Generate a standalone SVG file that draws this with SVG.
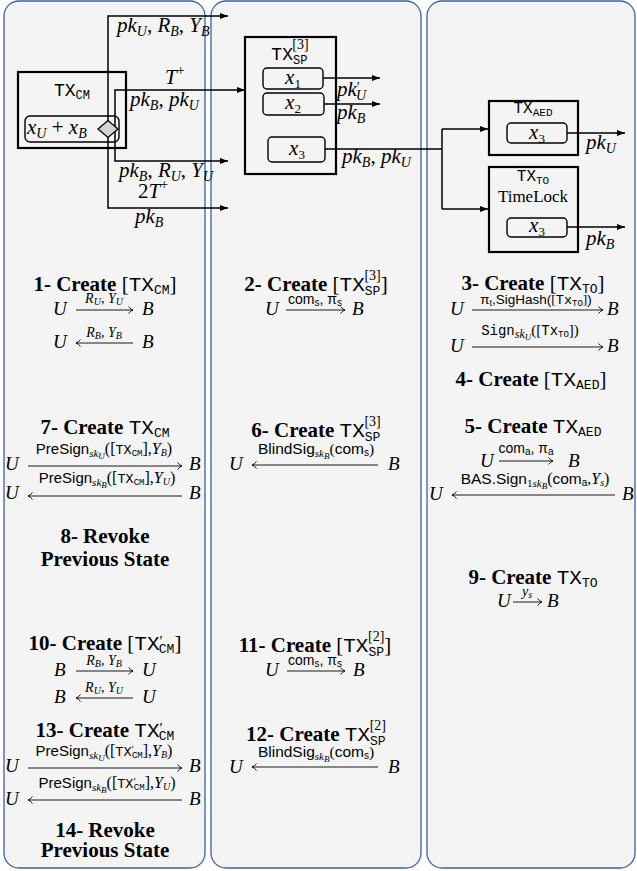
<svg xmlns="http://www.w3.org/2000/svg" width="637" height="871" viewBox="0 0 637 871">
<defs>
<style>
.panel{fill:#f4f4f4;stroke:#3d5fa6;stroke-width:1.3}
.box{fill:none;stroke:#000;stroke-width:2.2}
.inner{fill:none;stroke:#000;stroke-width:1.4}
.con{fill:none;stroke:#000;stroke-width:1.5}
.ma{fill:none;stroke:#000;stroke-width:0.9}
.mi{font-family:"Liberation Serif",serif;font-style:italic}
.rm{font-family:"Liberation Serif",serif;font-style:normal;font-weight:normal}
.bf{font-family:"Liberation Serif",serif;font-weight:bold}
.tt{font-family:"Liberation Mono","DejaVu Sans Mono",monospace;font-style:normal;font-weight:normal}
.sf{font-family:"Liberation Sans",sans-serif;font-style:normal;font-weight:normal}
text{fill:#000}
</style>
<marker id="ah" markerWidth="8" markerHeight="6" refX="8" refY="3" orient="auto" markerUnits="userSpaceOnUse"><path d="M0,0 L8,3 L0,6 z" fill="#000"/></marker>
<marker id="mh" markerWidth="7" markerHeight="9" refX="6" refY="4.5" orient="auto" markerUnits="userSpaceOnUse"><path d="M1.5,1 Q3.5,3.7 6,4.5 Q3.5,5.3 1.5,8" fill="none" stroke="#000" stroke-width="0.9"/></marker>
</defs>

<g id="panels">
<rect class="panel" x="4" y="1" width="201" height="867" rx="15"/>
<rect class="panel" x="211" y="1" width="210" height="867" rx="15"/>
<rect class="panel" x="427" y="1" width="208" height="867" rx="15"/>
</g>

<g id="tx-cm">
<rect class="box" x="18" y="72" width="108" height="76"/>
<text class="tt" x="72" y="96" text-anchor="middle" font-size="18">TX<tspan font-size="12" dy="3">CM</tspan></text>
<rect class="inner" x="25" y="116" width="94" height="26" rx="5"/>
<text class="mi" x="27" y="134" font-size="21">x<tspan font-size="14" dy="4">U</tspan><tspan class="rm" dy="-4"> + </tspan>x<tspan font-size="14" dy="4">B</tspan></text>
</g>

<g id="tx-sp">
<rect class="box" x="245" y="37" width="91" height="137"/>
<text class="tt" x="290" y="60" text-anchor="middle" font-size="18">TX<tspan font-size="12" dy="4">SP</tspan><tspan class="rm" font-size="14" dx="-15" dy="-15">[3]</tspan></text>
<rect class="inner" x="263" y="68" width="60" height="21" rx="4"/>
<text class="mi" x="293" y="84" text-anchor="middle" font-size="21">x<tspan class="rm" font-size="13" dy="4">1</tspan></text>
<rect class="inner" x="263" y="93" width="61" height="22" rx="4"/>
<text class="mi" x="293" y="109" text-anchor="middle" font-size="21">x<tspan class="rm" font-size="13" dy="4">2</tspan></text>
<rect class="inner" x="268" y="137" width="57" height="25" rx="4"/>
<text class="mi" x="297" y="155" text-anchor="middle" font-size="21">x<tspan class="rm" font-size="13" dy="4">3</tspan></text>
</g>

<g id="tx-aed">
<rect class="box" x="489" y="101" width="89" height="54"/>
<text class="tt" x="533" y="113" text-anchor="middle" font-size="16">TX<tspan font-size="11" dy="3">AED</tspan></text>
<rect class="inner" x="507" y="123" width="60" height="20" rx="4"/>
<text class="mi" x="537" y="139" text-anchor="middle" font-size="21">x<tspan class="rm" font-size="13" dy="4">3</tspan></text>
</g>

<g id="tx-to">
<rect class="box" x="489" y="167" width="89" height="85"/>
<text class="tt" x="533" y="181" text-anchor="middle" font-size="16">TX<tspan font-size="11" dy="3">TO</tspan></text>
<text class="rm" x="533" y="202" text-anchor="middle" font-size="17">TimeLock</text>
<rect class="inner" x="507" y="218" width="60" height="19" rx="4"/>
<text class="mi" x="537" y="232" text-anchor="middle" font-size="21">x<tspan class="rm" font-size="13" dy="4">3</tspan></text>
</g>

<g id="connectors">
<path class="con" d="M108,129 V16 H228" marker-end="url(#ah)"/>
<path class="con" d="M108,129 V208 H228" marker-end="url(#ah)"/>
<path class="con" d="M115,129 V90 H245" marker-end="url(#ah)"/>
<path class="con" d="M115,129 V161 H228" marker-end="url(#ah)"/>
<path class="con" d="M323,78 H380" marker-end="url(#ah)"/>
<path class="con" d="M324,104 H380" marker-end="url(#ah)"/>
<path class="con" d="M325,149 H442 M442,129 V209"/>
<path class="con" d="M442,129 H488" marker-end="url(#ah)"/>
<path class="con" d="M442,209 H488" marker-end="url(#ah)"/>
<path class="con" d="M567,133 H625" marker-end="url(#ah)"/>
<path class="con" d="M567,227 H625" marker-end="url(#ah)"/>
</g>

<g id="tx-cm-split">
<path d="M98,129 L108,120.5 L118,129 L108,137.5 Z" fill="#d3d3d3" stroke="#000" stroke-width="1.3"/>
</g>

<g id="edge-labels">
<text class="mi" x="117" y="32" font-size="21">pk<tspan font-size="14" dy="4">U</tspan><tspan class="rm" dy="-4">, </tspan>R<tspan font-size="14" dy="4">B</tspan><tspan class="rm" dy="-4">, </tspan>Y<tspan font-size="14" dy="4">B</tspan></text>
<text class="mi" x="165" y="84" font-size="21">T<tspan class="rm" font-size="14" dy="-9">+</tspan></text>
<text class="mi" x="130" y="106" font-size="21">pk<tspan font-size="14" dy="4">B</tspan><tspan class="rm" dy="-4">, </tspan>pk<tspan font-size="14" dy="4">U</tspan></text>
<text class="mi" x="119" y="177" font-size="21">pk<tspan font-size="14" dy="4">B</tspan><tspan class="rm" dy="-4">, </tspan>R<tspan font-size="14" dy="4">U</tspan><tspan class="rm" dy="-4">, </tspan>Y<tspan font-size="14" dy="4">U</tspan></text>
<text class="mi" x="138" y="198" font-size="21"><tspan class="rm">2</tspan>T<tspan class="rm" font-size="14" dy="-9">+</tspan></text>
<text class="mi" x="135" y="223" font-size="21">pk<tspan font-size="14" dy="4">B</tspan></text>
<text class="mi" x="337" y="96" font-size="21">pk<tspan class="rm" font-size="14" dy="-4">′</tspan><tspan font-size="14" dx="-4" dy="8">U</tspan></text>
<text class="mi" x="337" y="119" font-size="21">pk<tspan font-size="14" dy="4">B</tspan></text>
<text class="mi" x="342" y="163" font-size="21">pk<tspan font-size="14" dy="4">B</tspan><tspan class="rm" dy="-4">, </tspan>pk<tspan font-size="14" dy="4">U</tspan></text>
<text class="mi" x="586" y="149" font-size="21">pk<tspan font-size="14" dy="4">U</tspan></text>
<text class="mi" x="586" y="245" font-size="21">pk<tspan font-size="14" dy="4">B</tspan></text>
</g>

<g id="step-1">
<text class="bf" x="105" y="291" text-anchor="middle" font-size="21">1- Create <tspan class="rm">[</tspan><tspan class="tt">TX</tspan><tspan class="tt" font-size="13" dy="3">CM</tspan><tspan class="rm" dy="-3">]</tspan></text>
<text class="mi" x="53" y="315" font-size="19">U</text>
<path class="ma" d="M76,310 H133" marker-end="url(#mh)"/>
<text class="mi" x="104" y="303" text-anchor="middle" font-size="14">R<tspan font-size="10" dy="2">U</tspan><tspan class="rm" dy="-2">, </tspan>Y<tspan font-size="10" dy="2">U</tspan></text>
<text class="mi" x="142" y="315" font-size="19">B</text>
<text class="mi" x="53" y="348" font-size="19">U</text>
<path class="ma" d="M133,343 H76" marker-end="url(#mh)"/>
<text class="mi" x="104" y="337" text-anchor="middle" font-size="14">R<tspan font-size="10" dy="2">B</tspan><tspan class="rm" dy="-2">, </tspan>Y<tspan font-size="10" dy="2">B</tspan></text>
<text class="mi" x="142" y="348" font-size="19">B</text>
</g>

<g id="step-2">
<text class="bf" x="316" y="291" text-anchor="middle" font-size="21">2- Create <tspan class="rm">[</tspan><tspan class="tt">TX</tspan><tspan class="tt" font-size="13" dy="4">SP</tspan><tspan class="rm" font-size="14" dx="-16" dy="-15">[3]</tspan><tspan class="rm" dy="11">]</tspan></text>
<text class="mi" x="265" y="315" font-size="19">U</text>
<path class="ma" d="M286,310 H345" marker-end="url(#mh)"/>
<text class="sf" x="315" y="304" text-anchor="middle" font-size="14">com<tspan font-size="10" dy="2">s</tspan><tspan dy="-2">, π</tspan><tspan font-size="10" dy="2">s</tspan></text>
<text class="mi" x="352" y="315" font-size="19">B</text>
</g>

<g id="step-3">
<text class="bf" x="533" y="290" text-anchor="middle" font-size="21">3- Create <tspan class="rm">[</tspan><tspan class="tt">TX</tspan><tspan class="tt" font-size="13" dy="3">TO</tspan><tspan class="rm" dy="-3">]</tspan></text>
<text class="mi" x="450" y="315" font-size="19">U</text>
<path class="ma" d="M472,310 H603" marker-end="url(#mh)"/>
<text class="sf" x="536" y="304" text-anchor="middle" font-size="13.5">π<tspan font-size="9" dy="2">t</tspan><tspan dy="-2">,SigHash(</tspan><tspan class="rm">[</tspan><tspan class="tt">Tx</tspan><tspan class="tt" font-size="9" dy="2">TO</tspan><tspan class="rm" dy="-2">]</tspan>)</text>
<text class="mi" x="607" y="315" font-size="19">B</text>
<text class="mi" x="450" y="352" font-size="19">U</text>
<path class="ma" d="M472,347 H603" marker-end="url(#mh)"/>
<text class="tt" x="530" y="335" text-anchor="middle" font-size="14">Sign<tspan class="mi" font-size="12" dy="3">sk</tspan><tspan class="mi" font-size="9" dy="2">U</tspan><tspan class="rm" font-size="15" dy="-5">([</tspan>Tx<tspan font-size="9" dy="2">TO</tspan><tspan class="rm" font-size="15" dy="-2">])</tspan></text>
<text class="mi" x="607" y="352" font-size="19">B</text>
</g>

<g id="step-4">
<text class="bf" x="531" y="386" text-anchor="middle" font-size="21">4- Create <tspan class="rm">[</tspan><tspan class="tt">TX</tspan><tspan class="tt" font-size="13" dy="3">AED</tspan><tspan class="rm" dy="-3">]</tspan></text>
</g>

<g id="step-5">
<text class="bf" x="533" y="433" text-anchor="middle" font-size="21">5- Create <tspan class="tt">TX</tspan><tspan class="tt" font-size="13" dy="3">AED</tspan></text>
<text class="mi" x="480" y="467" font-size="19">U</text>
<path class="ma" d="M499,461 H553" marker-end="url(#mh)"/>
<text class="sf" x="526" y="453" text-anchor="middle" font-size="14">com<tspan font-size="10" dy="2">a</tspan><tspan dy="-2">, π</tspan><tspan font-size="10" dy="2">a</tspan></text>
<text class="mi" x="568" y="467" font-size="19">B</text>
<text class="mi" x="429" y="500" font-size="19">U</text>
<path class="ma" d="M615,495 H452" marker-end="url(#mh)"/>
<text class="sf" x="535" y="484" text-anchor="middle" font-size="15.5">BAS.Sign<tspan class="rm" font-size="11" dy="3">1</tspan><tspan class="mi" font-size="11">sk</tspan><tspan class="mi" font-size="9" dy="2">B</tspan><tspan class="rm" font-size="16" dy="-5">(</tspan>com<tspan font-size="10" dy="2">a</tspan><tspan class="rm" dy="-2">,</tspan><tspan class="mi" font-size="16">Y</tspan><tspan class="mi" font-size="10" dy="2">s</tspan><tspan class="rm" font-size="16" dy="-2">)</tspan></text>
<text class="mi" x="622" y="500" font-size="19">B</text>
</g>

<g id="step-6">
<text class="bf" x="316" y="437" text-anchor="middle" font-size="21">6- Create <tspan class="tt">TX</tspan><tspan class="tt" font-size="13" dy="4">SP</tspan><tspan class="rm" font-size="14" dx="-16" dy="-15">[3]</tspan></text>
<text class="mi" x="229" y="470" font-size="19">U</text>
<path class="ma" d="M378,465 H252" marker-end="url(#mh)"/>
<text class="sf" x="316" y="454" text-anchor="middle" font-size="15.5">BlindSig<tspan class="mi" font-size="11" dy="3">sk</tspan><tspan class="mi" font-size="9" dy="2">B</tspan><tspan class="rm" dy="-5">(</tspan>com<tspan font-size="10" dy="2">s</tspan><tspan class="rm" dy="-2">)</tspan></text>
<text class="mi" x="388" y="470" font-size="19">B</text>
</g>

<g id="step-7">
<text class="bf" x="105" y="434" text-anchor="middle" font-size="21">7- Create <tspan class="tt">TX</tspan><tspan class="tt" font-size="13" dy="3">CM</tspan></text>
<text class="mi" x="5" y="470" font-size="19">U</text>
<path class="ma" d="M28,466 H182" marker-end="url(#mh)"/>
<text class="sf" x="104" y="454" text-anchor="middle" font-size="15">PreSign<tspan class="mi" font-size="11" dy="3">sk</tspan><tspan class="mi" font-size="9" dy="2">U</tspan><tspan class="rm" font-size="16" dy="-5">([</tspan><tspan class="tt" font-size="13.5">TX</tspan><tspan class="tt" font-size="9" dy="2">CM</tspan><tspan class="rm" font-size="16" dy="-2">],</tspan><tspan class="mi" font-size="16">Y</tspan><tspan class="mi" font-size="10" dy="2">B</tspan><tspan class="rm" font-size="16" dy="-2">)</tspan></text>
<text class="mi" x="189" y="470" font-size="19">B</text>
<text class="mi" x="5" y="499" font-size="19">U</text>
<path class="ma" d="M182,496 H28" marker-end="url(#mh)"/>
<text class="sf" x="107" y="483" text-anchor="middle" font-size="15">PreSign<tspan class="mi" font-size="11" dy="3">sk</tspan><tspan class="mi" font-size="9" dy="2">B</tspan><tspan class="rm" font-size="16" dy="-5">([</tspan><tspan class="tt" font-size="13.5">TX</tspan><tspan class="tt" font-size="9" dy="2">CM</tspan><tspan class="rm" font-size="16" dy="-2">],</tspan><tspan class="mi" font-size="16">Y</tspan><tspan class="mi" font-size="10" dy="2">U</tspan><tspan class="rm" font-size="16" dy="-2">)</tspan></text>
<text class="mi" x="189" y="499" font-size="19">B</text>
</g>

<g id="step-8">
<text class="bf" x="105" y="543" text-anchor="middle" font-size="21">8- Revoke</text>
<text class="bf" x="105" y="566" text-anchor="middle" font-size="21">Previous State</text>
</g>

<g id="step-9">
<text class="bf" x="533" y="584" text-anchor="middle" font-size="21">9- Create <tspan class="tt">TX</tspan><tspan class="tt" font-size="13" dy="3">TO</tspan></text>
<text class="mi" x="497" y="607" font-size="19">U</text>
<path class="ma" d="M513,602 H542" marker-end="url(#mh)"/>
<text class="mi" x="527" y="596" text-anchor="middle" font-size="14">y<tspan font-size="10" dy="2">s</tspan></text>
<text class="mi" x="547" y="607" font-size="19">B</text>
</g>

<g id="step-10">
<text class="bf" x="105" y="650" text-anchor="middle" font-size="21">10- Create <tspan class="rm">[</tspan><tspan class="tt">TX</tspan><tspan class="rm" font-size="15" dy="-4">′</tspan><tspan class="tt" font-size="13" dx="-4" dy="7">CM</tspan><tspan class="rm" dy="-3">]</tspan></text>
<text class="mi" x="54" y="676" font-size="19">B</text>
<path class="ma" d="M76,671 H133" marker-end="url(#mh)"/>
<text class="mi" x="104" y="665" text-anchor="middle" font-size="14">R<tspan font-size="10" dy="2">B</tspan><tspan class="rm" dy="-2">, </tspan>Y<tspan font-size="10" dy="2">B</tspan></text>
<text class="mi" x="142" y="676" font-size="19">U</text>
<text class="mi" x="54" y="703" font-size="19">B</text>
<path class="ma" d="M133,698 H76" marker-end="url(#mh)"/>
<text class="mi" x="104" y="692" text-anchor="middle" font-size="14">R<tspan font-size="10" dy="2">U</tspan><tspan class="rm" dy="-2">, </tspan>Y<tspan font-size="10" dy="2">U</tspan></text>
<text class="mi" x="142" y="703" font-size="19">U</text>
</g>

<g id="step-11">
<text class="bf" x="315" y="652" text-anchor="middle" font-size="21">11- Create <tspan class="rm">[</tspan><tspan class="tt">TX</tspan><tspan class="tt" font-size="13" dy="4">SP</tspan><tspan class="rm" font-size="14" dx="-16" dy="-15">[2]</tspan><tspan class="rm" dy="11">]</tspan></text>
<text class="mi" x="265" y="676" font-size="19">U</text>
<path class="ma" d="M287,671 H345" marker-end="url(#mh)"/>
<text class="sf" x="315" y="665" text-anchor="middle" font-size="14">com<tspan font-size="10" dy="2">s</tspan><tspan dy="-2">, π</tspan><tspan font-size="10" dy="2">s</tspan></text>
<text class="mi" x="353" y="676" font-size="19">B</text>
</g>

<g id="step-12">
<text class="bf" x="316" y="741" text-anchor="middle" font-size="21">12- Create <tspan class="tt">TX</tspan><tspan class="tt" font-size="13" dy="4">SP</tspan><tspan class="rm" font-size="14" dx="-16" dy="-15">[2]</tspan></text>
<text class="mi" x="229" y="773" font-size="19">U</text>
<path class="ma" d="M378,767 H252" marker-end="url(#mh)"/>
<text class="sf" x="316" y="757" text-anchor="middle" font-size="15.5">BlindSig<tspan class="mi" font-size="11" dy="3">sk</tspan><tspan class="mi" font-size="9" dy="2">B</tspan><tspan class="rm" dy="-5">(</tspan>com<tspan font-size="10" dy="2">s</tspan><tspan class="rm" dy="-2">)</tspan></text>
<text class="mi" x="388" y="773" font-size="19">B</text>
</g>

<g id="step-13">
<text class="bf" x="105" y="737" text-anchor="middle" font-size="21">13- Create <tspan class="tt">TX</tspan><tspan class="rm" font-size="15" dy="-4">′</tspan><tspan class="tt" font-size="13" dx="-4" dy="7">CM</tspan></text>
<text class="mi" x="5" y="772" font-size="19">U</text>
<path class="ma" d="M28,768 H182" marker-end="url(#mh)"/>
<text class="sf" x="104" y="756" text-anchor="middle" font-size="15">PreSign<tspan class="mi" font-size="11" dy="3">sk</tspan><tspan class="mi" font-size="9" dy="2">U</tspan><tspan class="rm" font-size="16" dy="-5">([</tspan><tspan class="tt" font-size="13.5">TX</tspan><tspan class="rm" font-size="11" dy="-3">′</tspan><tspan class="tt" font-size="9" dx="-2" dy="5">CM</tspan><tspan class="rm" font-size="16" dy="-2">],</tspan><tspan class="mi" font-size="16">Y</tspan><tspan class="mi" font-size="10" dy="2">B</tspan><tspan class="rm" font-size="16" dy="-2">)</tspan></text>
<text class="mi" x="189" y="772" font-size="19">B</text>
<text class="mi" x="5" y="805" font-size="19">U</text>
<path class="ma" d="M182,800 H28" marker-end="url(#mh)"/>
<text class="sf" x="107" y="788" text-anchor="middle" font-size="15">PreSign<tspan class="mi" font-size="11" dy="3">sk</tspan><tspan class="mi" font-size="9" dy="2">B</tspan><tspan class="rm" font-size="16" dy="-5">([</tspan><tspan class="tt" font-size="13.5">TX</tspan><tspan class="rm" font-size="11" dy="-3">′</tspan><tspan class="tt" font-size="9" dx="-2" dy="5">CM</tspan><tspan class="rm" font-size="16" dy="-2">],</tspan><tspan class="mi" font-size="16">Y</tspan><tspan class="mi" font-size="10" dy="2">U</tspan><tspan class="rm" font-size="16" dy="-2">)</tspan></text>
<text class="mi" x="189" y="805" font-size="19">B</text>
</g>

<g id="step-14">
<text class="bf" x="105" y="837" text-anchor="middle" font-size="21">14- Revoke</text>
<text class="bf" x="105" y="857" text-anchor="middle" font-size="21">Previous State</text>
</g>
</svg>
